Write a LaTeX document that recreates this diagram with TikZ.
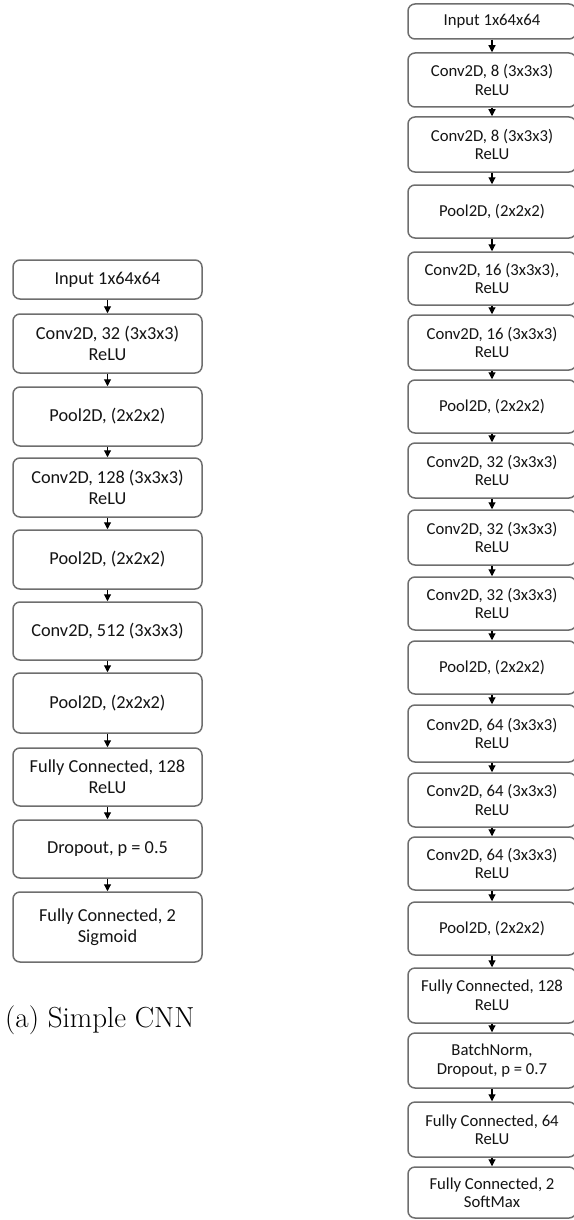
\documentclass[tikz,border=0pt]{standalone}
\usepackage{fontspec}
\newfontfamily\boxfont{Carlito}
\usetikzlibrary{arrows.meta}
\definecolor{boxline}{HTML}{6E6E6E}
\definecolor{txt}{HTML}{141414}
\tikzset{
  layer/.style={draw=boxline, line width=1.5pt, rounded corners=7pt, fill=white,
    align=center, inner sep=0pt, text=txt},
  lbox/.style={layer, minimum width=189pt, font=\boxfont\fontsize{18.3}{21}\selectfont},
  rbox/.style={layer, minimum width=168pt, font=\boxfont\fontsize{16.7}{18.5}\selectfont},
  arr/.style={line width=1.1pt, -{Triangle[length=7pt,width=7pt]}},
}
\begin{document}
\begin{tikzpicture}[x=1pt,y=-1pt]
\useasboundingbox (0,0) rectangle (573,1220);
% ---- simple network (left column) ----
\newcommand\lnode[4]{\node[lbox, minimum height=#3-#2] (#1) at (107.5,{(#2+#3)/2}) {#4};}
\lnode{l1}{260}{299}{Input 1x64x64}
\lnode{l2}{314}{373}{Conv2D, 32 (3x3x3)\\ReLU}
\lnode{l3}{387}{446}{Pool2D, (2x2x2)}
\lnode{l4}{458}{517}{Conv2D, 128 (3x3x3)\\ReLU}
\lnode{l5}{530}{589}{Pool2D, (2x2x2)}
\lnode{l6}{602}{660}{Conv2D, 512 (3x3x3)}
\lnode{l7}{673}{733}{Pool2D, (2x2x2)}
\lnode{l8}{748}{806}{Fully Connected, 128\\ReLU}
\lnode{l9}{820}{878}{Dropout, p = 0.5}
\lnode{l10}{892}{962}{Fully Connected, 2\\Sigmoid}
\foreach \a/\b in {l1/l2,l2/l3,l3/l4,l4/l5,l5/l6,l6/l7,l7/l8,l8/l9,l9/l10}
  \draw[arr] (\a.south) -- (\b.north);
\node[anchor=base west, inner sep=0pt, font=\fontsize{29}{34}\selectfont] (capa) at (5,1027) {(a) Simple CNN};
% ---- deeper network (right column) ----
\newcommand\rnode[4]{\node[rbox, minimum height=#3-#2] (#1) at (492,{(#2+#3)/2}) {#4};}
\rnode{r1}{4}{39}{Input 1x64x64}
\rnode{r2}{53}{107}{Conv2D, 8 (3x3x3)\\ReLU}
\rnode{r3}{117}{172}{Conv2D, 8 (3x3x3)\\ReLU}
\rnode{r4}{185}{238}{Pool2D, (2x2x2)}
\rnode{r5}{252}{305}{Conv2D, 16 (3x3x3),\\ReLU}
\rnode{r6}{315}{370}{Conv2D, 16 (3x3x3)\\ReLU}
\rnode{r7}{380}{433}{Pool2D, (2x2x2)}
\rnode{r8}{443}{498}{Conv2D, 32 (3x3x3)\\ReLU}
\rnode{r9}{510}{565}{Conv2D, 32 (3x3x3)\\ReLU}
\rnode{r10}{577}{630}{Conv2D, 32 (3x3x3)\\ReLU}
\rnode{r11}{641}{694}{Pool2D, (2x2x2)}
\rnode{r12}{705}{762}{Conv2D, 64 (3x3x3)\\ReLU}
\rnode{r13}{773}{827}{Conv2D, 64 (3x3x3)\\ReLU}
\rnode{r14}{837}{890}{Conv2D, 64 (3x3x3)\\ReLU}
\rnode{r15}{902}{955}{Pool2D, (2x2x2)}
\rnode{r16}{968}{1023}{Fully Connected, 128\\ReLU}
\rnode{r17}{1033}{1088}{BatchNorm,\\Dropout, p = 0.7}
\rnode{r18}{1102}{1157}{Fully Connected, 64\\ReLU}
\rnode{r19}{1167}{1218}{Fully Connected, 2\\SoftMax}
\foreach \i [evaluate=\i as \j using int(\i+1)] in {1,...,18}
  \draw[arr] (r\i.south) -- (r\j.north);
\end{tikzpicture}
\end{document}
